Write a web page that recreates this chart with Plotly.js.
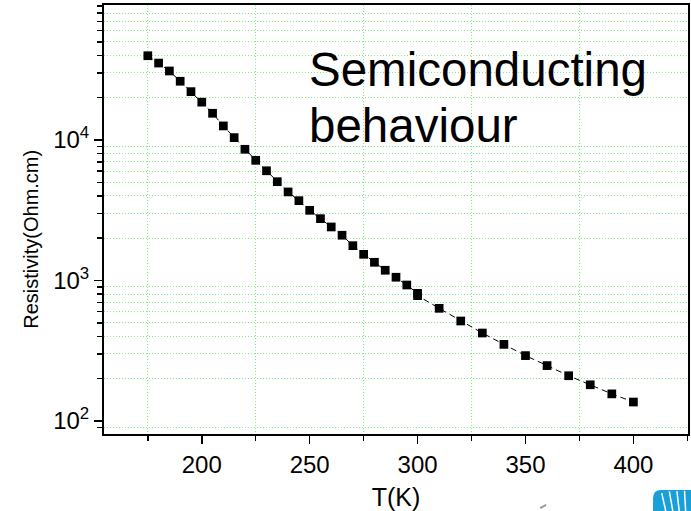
<!DOCTYPE html>
<html>
<head>
<meta charset="utf-8">
<script src="https://cdn.plot.ly/plotly-3.0.1.min.js"></script>
<style>html,body{margin:0;padding:0;background:#fff;}#chart{width:691px;height:511px;}</style>
</head>
<body>
<div id="chart"></div>
<script>
// Temperature (K)
var temperature = [175,180,185,190,195,200,205,210,215,220,225,230,235,240,245,250,255,260,265,270,275,280,285,290,295,300,300,310,320,330,340,350,360,370,380,390,400];
// Resistivity (Ohm.cm)
var resistivity = [39800,35300,31000,26200,22100,18600,15500,12600,10400,8590,7170,6040,5050,4270,3700,3160,2755,2405,2100,1770,1536,1348,1183,1055,929,810,780,634,515,423,351,292,248,210,181,156,136.5];

var xMajorTicks = [200,250,300,350,400];
var xMinorTicks = [175,225,275,325,375,425];
var yMajorTicks = [100,1000,10000];
var yMajorLabels = ['10<sup>2</sup>','10<sup>3</sup>','10<sup>4</sup>'];
var yMinorTicks = [];
[10,100,1000,10000].forEach(function(d){ for (var k=2;k<=9;k++) yMinorTicks.push(k*d); });

var FONT = 'Liberation Sans, Arial, sans-serif';
var GRID = 'rgb(130,235,130)';

var trace = {
  x: temperature, y: resistivity, type: 'scatter', mode: 'lines+markers',
  line: {color: '#000', width: 1, dash: '6px,4px'},
  marker: {symbol: 'square', size: 8.7, color: '#000', line: {width: 0}},
  hoverinfo: 'x+y', showlegend: false
};

var layout = {
  width: 691, height: 511,
  margin: {l: 104, r: 3, t: 5, b: 77, pad: 0},
  paper_bgcolor: '#fff', plot_bgcolor: '#fff',
  font: {family: FONT, color: '#000'},
  xaxis: {
    range: [154.7, 425.3], tickmode: 'array', tickvals: xMajorTicks,
    ticks: 'outside', ticklen: 8, tickwidth: 1.5, tickcolor: '#000',
    showline: true, linecolor: '#000', linewidth: 2, mirror: true,
    showgrid: false, zeroline: false,
    tickfont: {size: 24, family: FONT, color: '#000'},
    title: {text: 'T(K)', font: {size: 25, family: FONT, color: '#000'}, standoff: 13},
    minor: {tickmode: 'array', tickvals: xMinorTicks, ticks: 'outside', ticklen: 5, tickwidth: 1.5, tickcolor: '#000',
            showgrid: true, gridcolor: GRID, gridwidth: 1, griddash: '1px,2px'}
  },
  yaxis: {
    type: 'log', range: [1.9075, 4.961], tickmode: 'array', tickvals: yMajorTicks, ticktext: yMajorLabels,
    ticks: 'outside', ticklen: 8, tickwidth: 1.5, tickcolor: '#000',
    showline: true, linecolor: '#000', linewidth: 2, mirror: true,
    showgrid: false, zeroline: false,
    tickfont: {size: 24, family: FONT, color: '#000'},
    minor: {tickmode: 'array', tickvals: yMinorTicks, ticks: 'outside', ticklen: 5, tickwidth: 1.5, tickcolor: '#000',
            showgrid: true, gridcolor: GRID, gridwidth: 1, griddash: '1px,2px'}
  },
  annotations: [
    {text: 'Resistivity(Ohm.cm)', xref: 'paper', yref: 'paper', x: -0.1253, y: 0.4548,
     xanchor: 'center', yanchor: 'middle', textangle: -90, showarrow: false,
     font: {size: 20, family: FONT, color: '#000'}},
    {text: 'Semiconducting', xref: 'paper', yref: 'paper', x: 0.347, y: 0.917,
     xanchor: 'left', yanchor: 'top', showarrow: false,
     font: {size: 47.5, family: FONT, color: '#000'}},
    {text: 'behaviour', xref: 'paper', yref: 'paper', x: 0.347, y: 0.786,
     xanchor: 'left', yanchor: 'top', showarrow: false,
     font: {size: 47.5, family: FONT, color: '#000'}}
  ],
  shapes: [
    {type: 'path', xref: 'paper', yref: 'paper', layer: 'above',
     path: 'M 0.9401,-0.2 L 0.9401,-0.149 Q 0.9401,-0.1305 0.954,-0.1305 L 1.03,-0.1305 L 1.03,-0.2 Z',
     fillcolor: 'rgb(26,160,217)', line: {width: 0}},
    {type: 'line', xref: 'paper', yref: 'paper', x0: 0.955, y0: -0.138, x1: 0.962, y1: -0.18, line: {color: '#fff', width: 1.5}},
    {type: 'line', xref: 'paper', yref: 'paper', x0: 0.968, y0: -0.134, x1: 0.974, y1: -0.18, line: {color: '#fff', width: 1.5}},
    {type: 'line', xref: 'paper', yref: 'paper', x0: 0.981, y0: -0.133, x1: 0.985, y1: -0.18, line: {color: '#fff', width: 1.5}},
    {type: 'line', xref: 'paper', yref: 'paper', x0: 0.994, y0: -0.133, x1: 0.996, y1: -0.18, line: {color: '#fff', width: 1.5}},
    {type: 'line', xref: 'paper', yref: 'paper', x0: 0.747, y0: -0.1725, x1: 0.757, y1: -0.165, line: {color: '#999', width: 2}}
  ]
};

Plotly.newPlot('chart', [trace], layout, {displayModeBar: false, staticPlot: true});
</script>
</body>
</html>
